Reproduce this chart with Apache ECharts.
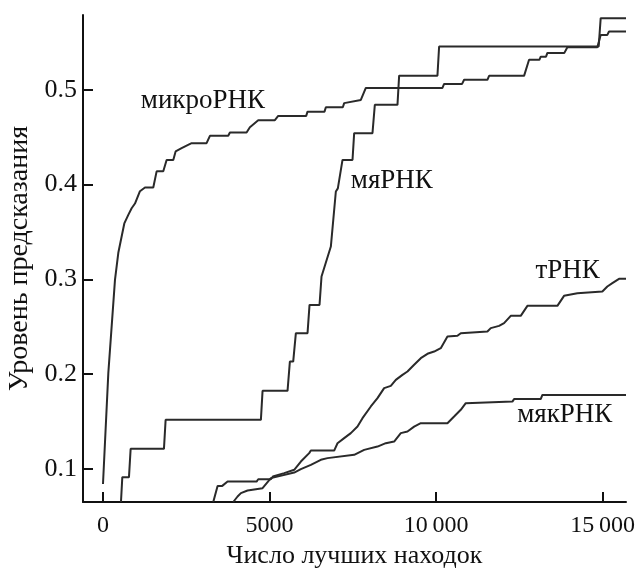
<!DOCTYPE html>
<html>
<head>
<meta charset="utf-8">
<script src="https://cdn.jsdelivr.net/npm/echarts@6/dist/echarts.min.js"></script>
<style>
    html, body { margin: 0; padding: 0; background: #fff; }
    #chart { width: 635px; height: 568px; }
</style>
</head>
<body>
<div id="chart"></div>
<script>
// микроРНК
const microX = [0, 160, 360, 460, 640, 760, 860, 960, 1110, 1260, 1510, 1610, 1810, 1910, 2110, 2180, 2360, 2660, 3110, 3210, 3760, 3810, 4310, 4410, 4660, 5160, 5260, 6100, 6140, 6650, 6690, 7200, 7240, 7740, 7890, 10190, 10240, 10780, 10840, 11540, 11590, 12640, 12790, 13100, 13140, 13300, 13340, 13850, 13940, 14840, 14940, 15140, 15190, 15700]
const microY = [0.084, 0.201, 0.2995, 0.328, 0.359, 0.368, 0.375, 0.380, 0.393, 0.397, 0.397, 0.414, 0.414, 0.426, 0.426, 0.435, 0.4385, 0.4437, 0.4437, 0.4515, 0.4515, 0.455, 0.455, 0.4606, 0.468, 0.468, 0.4725, 0.4725, 0.477, 0.477, 0.4817, 0.4817, 0.486, 0.4894, 0.502, 0.502, 0.5063, 0.5063, 0.5106, 0.5106, 0.5148, 0.5148, 0.5317, 0.5317, 0.535, 0.535, 0.539, 0.539, 0.545, 0.545, 0.558, 0.558, 0.5616, 0.5616]
// мяРНК
const snX = [540, 580, 780, 830, 1830, 1880, 4740, 4790, 5540, 5610, 5710, 5790, 6140, 6200, 6500, 6560, 6620, 6840, 6990, 7050, 7190, 7490, 7540, 8090, 8160, 8840, 8890, 10040, 10090, 14880, 14940, 15700]
const snY = [0.065, 0.0912, 0.0912, 0.1211, 0.1211, 0.1517, 0.1517, 0.1823, 0.1823, 0.2132, 0.2132, 0.2432, 0.2432, 0.273, 0.273, 0.303, 0.303, 0.3346, 0.3927, 0.396, 0.426, 0.426, 0.4543, 0.4543, 0.4842, 0.4842, 0.515, 0.515, 0.5457, 0.5457, 0.5757, 0.5757]
// тРНК
const trX = [3310, 3440, 3580, 3740, 4610, 4660, 5040, 5100, 5440, 5740, 5940, 6190, 6240, 6940, 7040, 7240, 7440, 7640, 7790, 8040, 8240, 8440, 8640, 8790, 8990, 9140, 9340, 9540, 9740, 9940, 10140, 10340, 10640, 10740, 11540, 11640, 11890, 12040, 12240, 12540, 12740, 13640, 13840, 14240, 14990, 15140, 15290, 15490, 15700]
const trY = [0.065, 0.082, 0.082, 0.0866, 0.0866, 0.089, 0.089, 0.0919, 0.0955, 0.099, 0.1077, 0.1166, 0.1193, 0.1193, 0.127, 0.1324, 0.1377, 0.1446, 0.1535, 0.1658, 0.1746, 0.1852, 0.1876, 0.1939, 0.1992, 0.2027, 0.2098, 0.2168, 0.2214, 0.2238, 0.2274, 0.2396, 0.2404, 0.2432, 0.2449, 0.2485, 0.2509, 0.2538, 0.2615, 0.2615, 0.272, 0.272, 0.2826, 0.2854, 0.2871, 0.2924, 0.296, 0.3005, 0.3005]
// мякРНК
const snoX = [3910, 4040, 4140, 4340, 4790, 5040, 5740, 5940, 6240, 6540, 6740, 7540, 7840, 8240, 8490, 8740, 8940, 9140, 9340, 9540, 10340, 10540, 10740, 10890, 10940, 12290, 12340, 13140, 13190, 15700]
const snoY = [0.065, 0.0708, 0.0744, 0.0771, 0.0796, 0.0902, 0.0961, 0.0997, 0.1042, 0.1095, 0.1113, 0.1148, 0.12, 0.1235, 0.1271, 0.1288, 0.1377, 0.1394, 0.1446, 0.1482, 0.1482, 0.1552, 0.1623, 0.1693, 0.171, 0.171, 0.1736, 0.1736, 0.178, 0.178]

const names = ['микроРНК', 'мяРНК', 'тРНК', 'мякРНК']
const nameX = [3000, 8670, 13950, 13860]
const nameY = [0.4884, 0.404, 0.309, 0.157]

const xTicks = [0, 5000, 10000, 15000]
const yTicks = [0.1, 0.2, 0.3, 0.4, 0.5]

const font = 'Liberation Serif'
const ink = '#111'

function pairs(xs, ys) {
    return xs.map((x, i) => [x, ys[i]])
}

const lines = [pairs(microX, microY), pairs(snX, snY), pairs(trX, trY), pairs(snoX, snoY)]

echarts.init(document.getElementById('chart')).setOption({
    animation: false,
    grid: {
        left: 83,
        right: 9,
        top: 15,
        bottom: 66,
        outerBoundsMode: 'none'
    },
    xAxis: {
        type: 'value',
        min: -600,
        max: 15700,
        name: 'Число лучших находок',
        nameLocation: 'middle',
        nameGap: 37,
        nameTextStyle: { fontFamily: font, fontSize: 26, color: ink },
        splitLine: { show: false },
        axisLine: { onZero: false, lineStyle: { color: ink, width: 2 } },
        axisTick: {
            inside: true,
            length: 10,
            customValues: xTicks,
            lineStyle: { color: ink, width: 2 }
        },
        axisLabel: {
            customValues: xTicks,
            margin: 12,
            fontFamily: font,
            fontSize: 24,
            color: ink,
            // тонкий пробел в пятизначных числах
            formatter: v => v >= 10000 ? String(v).slice(0, 2) + '\u2009' + String(v).slice(2) : String(v)
        }
    },
    yAxis: {
        type: 'value',
        min: 0.065,
        max: 0.579,
        name: 'Уровень предсказания',
        nameLocation: 'middle',
        nameGap: 43,
        nameTextStyle: { fontFamily: font, fontSize: 28, color: ink },
        splitLine: { show: false },
        axisLine: { show: true, onZero: false, lineStyle: { color: ink, width: 2 } },
        axisTick: {
            show: true,
            inside: true,
            length: 10,
            customValues: yTicks,
            lineStyle: { color: ink, width: 2 }
        },
        axisLabel: {
            customValues: yTicks,
            margin: 6,
            fontFamily: font,
            fontSize: 26,
            color: ink,
            formatter: v => v.toFixed(1)
        }
    },
    series: lines.map((d, i) => ({
        name: names[i],
        type: 'line',
        data: d,
        symbol: 'none',
        lineStyle: { color: '#2a2a2a', width: 2 },
        markPoint: {
            symbol: 'circle',
            symbolSize: 0,
            label: {
                show: true,
                position: 'inside',
                formatter: names[i],
                fontFamily: font,
                fontSize: 27,
                color: ink
            },
            data: [{ coord: [nameX[i], nameY[i]] }]
        }
    }))
})
</script>
</body>
</html>
